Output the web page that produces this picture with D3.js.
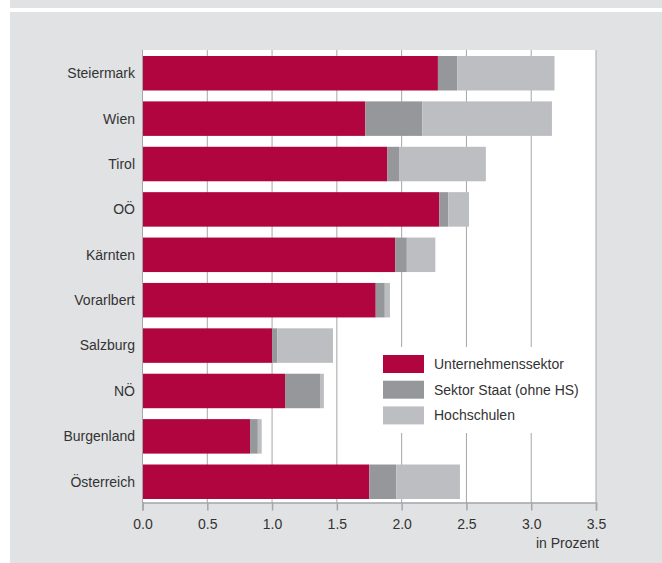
<!DOCTYPE html>
<html>
<head>
<meta charset="utf-8">
<script src="https://cdn.jsdelivr.net/npm/d3@7"></script>
<style>
  body { margin: 0; background: #fff; }
  svg { display: block; font-family: "Liberation Sans", Arial, sans-serif; }
</style>
</head>
<body>
<div id="chart"></div>
<script>
// regions, top to bottom
const regions = ["Steiermark", "Wien", "Tirol", "OÖ", "Kärnten", "Vorarlbert", "Salzburg", "NÖ", "Burgenland", "Österreich"];

// values in percent
const unternehmen = [2.28, 1.72, 1.89, 2.29, 1.95, 1.80, 1.00, 1.10, 0.83, 1.75];
const staat       = [0.15, 0.44, 0.09, 0.07, 0.09, 0.07, 0.04, 0.27, 0.06, 0.21];
const hochschulen = [0.75, 1.00, 0.67, 0.16, 0.22, 0.04, 0.43, 0.03, 0.03, 0.49];

const seriesNames = ["Unternehmenssektor", "Sektor Staat (ohne HS)", "Hochschulen"];
const colors = ["#b0053f", "#96979b", "#bdbec2"];
const ticks = [0, 0.5, 1, 1.5, 2, 2.5, 3, 3.5];

const W = 662, H = 563;

const svg = d3.select("#chart").append("svg")
    .attr("width", W)
    .attr("height", H);

// background panel
svg.append("rect").attr("x", 10).attr("y", 0).attr("width", W - 10).attr("height", 8).attr("fill", "#e1e2e4");
svg.append("rect").attr("x", 10).attr("y", 12).attr("width", W - 10).attr("height", H - 12).attr("fill", "#e1e2e4");

const plotTop = 50, plotBottom = 502.5;

const x = d3.scaleLinear().domain([0, 3.5]).range([142.5, 596]);
const y = d3.scaleBand().domain(regions).range([56, 499]).paddingInner(0.24).paddingOuter(0);

// white plot area
svg.append("rect")
    .attr("x", x(0)).attr("y", plotTop)
    .attr("width", x(3.5) - x(0)).attr("height", plotBottom - plotTop)
    .attr("fill", "#fff");

// vertical gridlines
svg.append("g").selectAll("line")
    .data(ticks)
    .enter().append("line")
    .attr("x1", d => x(d)).attr("x2", d => x(d))
    .attr("y1", plotTop).attr("y2", plotBottom)
    .attr("stroke", "#a5a6a9")
    .attr("stroke-width", 1);

// stacked bars
const rows = regions.map((r, i) => ({ region: r, U: unternehmen[i], S: staat[i], H: hochschulen[i] }));
const stack = d3.stack().keys(["U", "S", "H"])(rows);

svg.append("g").selectAll("g")
    .data(stack)
    .enter().append("g")
    .attr("fill", (d, i) => colors[i])
    .selectAll("rect")
    .data(d => d)
    .enter().append("rect")
    .attr("x", d => x(d[0]))
    .attr("y", d => y(d.data.region))
    .attr("width", d => x(d[1]) - x(d[0]))
    .attr("height", y.bandwidth());

// legend box covers gridlines
const lg = svg.append("g");
lg.append("rect")
    .attr("x", 346).attr("y", 347)
    .attr("width", 248).attr("height", 86)
    .attr("fill", "#fff");

seriesNames.forEach((name, i) => {
    lg.append("rect")
        .attr("x", 383).attr("y", 355 + i * 25.7)
        .attr("width", 41).attr("height", 18)
        .attr("fill", colors[i]);
    lg.append("text")
        .attr("x", 434).attr("y", 364 + i * 25.7)
        .attr("dy", "0.35em")
        .attr("font-size", 14)
        .attr("fill", "#333")
        .text(name);
});

// left axis line
svg.append("line")
    .attr("x1", x(0)).attr("x2", x(0))
    .attr("y1", plotTop).attr("y2", plotBottom)
    .attr("stroke", "#a5a6a9");

// bottom axis
const xAxis = svg.append("g")
    .attr("transform", `translate(0,${plotBottom})`)
    .call(d3.axisBottom(x).tickValues(ticks).tickFormat(d3.format(".1f")).tickSize(8).tickPadding(9));
xAxis.select(".domain").attr("stroke", "#a5a6a9").attr("stroke-width", 1.5);
xAxis.selectAll(".tick line").attr("stroke", "#a5a6a9").attr("stroke-width", 1.5);
xAxis.selectAll(".tick text")
    .attr("font-size", 14)
    .attr("font-family", "Liberation Sans, Arial, sans-serif")
    .attr("fill", "#333");

svg.append("text")
    .attr("x", 599).attr("y", 548)
    .attr("text-anchor", "end")
    .attr("font-size", 14)
    .attr("fill", "#333")
    .text("in Prozent");

// region labels
svg.append("g").selectAll("text")
    .data(regions)
    .enter().append("text")
    .attr("x", 135)
    .attr("y", d => y(d) + y.bandwidth() / 2)
    .attr("dy", "0.35em")
    .attr("text-anchor", "end")
    .attr("font-size", 14)
    .attr("fill", "#333")
    .text(d => d);
</script>
</body>
</html>
